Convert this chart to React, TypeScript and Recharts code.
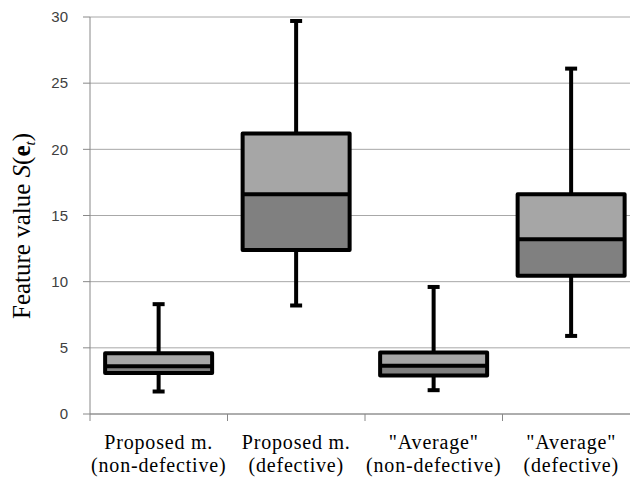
import React from "react";
import { ComposedChart, Bar, XAxis, YAxis, CartesianGrid, Label } from "recharts";

// category labels (two lines each)
const labelTop = ["Proposed m.", "Proposed m.", "\"Average\"", "\"Average\""];
const labelBottom = ["(non-defective)", "(defective)", "(non-defective)", "(defective)"];

// box plot statistics
const mins = [1.7, 8.2, 1.8, 5.9];
const q1s = [3.1, 12.4, 2.9, 10.45];
const medians = [3.6, 16.6, 3.65, 13.2];
const q3s = [4.6, 21.2, 4.65, 16.6];
const maxs = [8.3, 29.7, 9.6, 26.1];

const yTicks = [0, 5, 10, 15, 20, 25, 30];

const data = labelTop.map((t, i) => ({
    name: `${t} ${labelBottom[i]}`,
    min: mins[i],
    q1: q1s[i],
    median: medians[i],
    q3: q3s[i],
    max: maxs[i],
}));

const LIGHT = "#a6a6a6";
const DARK = "#808080";
const GRID = "#a8a8a8";
const AXIS = "#888888";

function BoxShape(props: any) {
    const { x, y, width, height, payload } = props;
    const { min, q1, median, q3, max } = payload;
    // the bar spans min..max, so its own geometry gives the value scale
    const k = Math.abs(height) / (max - min);
    const top = Math.min(y, y + height);
    const py = (v: number) => top + (max - v) * k;
    const cx = x + width / 2;
    const cap = 6;
    return (
        <g>
            <line x1={cx} x2={cx} y1={py(max)} y2={py(q3)} stroke="#000" strokeWidth={4} />
            <line x1={cx} x2={cx} y1={py(q1)} y2={py(min)} stroke="#000" strokeWidth={4} />
            <line x1={cx - cap} x2={cx + cap} y1={py(max)} y2={py(max)} stroke="#000" strokeWidth={4} />
            <line x1={cx - cap} x2={cx + cap} y1={py(min)} y2={py(min)} stroke="#000" strokeWidth={4} />
            <rect x={x} y={py(q3)} width={width} height={py(median) - py(q3)} fill={LIGHT} />
            <rect x={x} y={py(median)} width={width} height={py(q1) - py(median)} fill={DARK} />
            <rect
                x={x}
                y={py(q3)}
                width={width}
                height={py(q1) - py(q3)}
                fill="none"
                stroke="#000"
                strokeWidth={4}
                strokeLinejoin="round"
            />
            <line x1={x} x2={x + width} y1={py(median)} y2={py(median)} stroke="#000" strokeWidth={4} />
        </g>
    );
}

function CategoryTick(props: any) {
    const { x, y, payload, index } = props;
    const half = payload.offset || 0;
    const i = payload.index ?? index;
    return (
        <g>
            <line x1={x - half} x2={x - half} y1={y} y2={y + 7} stroke={AXIS} />
            {i === labelTop.length - 1 && <line x1={x + half} x2={x + half} y1={y} y2={y + 7} stroke={AXIS} />}
            <text
                x={x}
                y={y}
                textAnchor="middle"
                fontFamily="'Liberation Serif', serif"
                fontSize={20}
                letterSpacing={0.8}
                fill="#000"
            >
                <tspan x={x} dy={35}>{labelTop[i]}</tspan>
                <tspan x={x} dy={23}>{labelBottom[i]}</tspan>
            </text>
        </g>
    );
}

function YTitle() {
    return (
        <text
            x={30}
            y={226}
            transform="rotate(-90, 30, 226)"
            textAnchor="middle"
            fontFamily="'Liberation Serif', serif"
            fontSize={25}
            fill="#000"
        >
            Feature value <tspan fontStyle="italic">S</tspan>(<tspan fontWeight="bold">e</tspan>
            <tspan fontStyle="italic" fontSize={15} dy={5}>t</tspan>
            <tspan dy={-5}>)</tspan>
        </text>
    );
}

export default function App() {
    return (
        <div style={{ margin: -8, width: 638, height: 485, overflow: "hidden", background: "#fff" }}>
            <ComposedChart
                width={640}
                height={485}
                data={data}
                margin={{ top: 17, right: 0, bottom: 0, left: 0 }}
                barCategoryGap="11%"
            >
                <CartesianGrid vertical={false} stroke={GRID} />
                <XAxis
                    dataKey="name"
                    interval={0}
                    height={71}
                    tickSize={0}
                    tickMargin={0}
                    tickLine={false}
                    axisLine={{ stroke: AXIS }}
                    tick={<CategoryTick />}
                />
                <YAxis
                    width={90}
                    domain={[0, 30]}
                    ticks={yTicks}
                    tickSize={7}
                    tickMargin={15}
                    axisLine={{ stroke: AXIS }}
                    tickLine={{ stroke: AXIS }}
                    tick={{ fill: "#404040", fontSize: 15, fontFamily: "'Liberation Sans', Arial, sans-serif" }}
                    interval={0}
                >
                    <Label content={<YTitle />} />
                </YAxis>
                <Bar
                    dataKey={(d: any) => [d.min, d.max]}
                    shape={<BoxShape />}
                    isAnimationActive={false}
                />
            </ComposedChart>
        </div>
    );
}
